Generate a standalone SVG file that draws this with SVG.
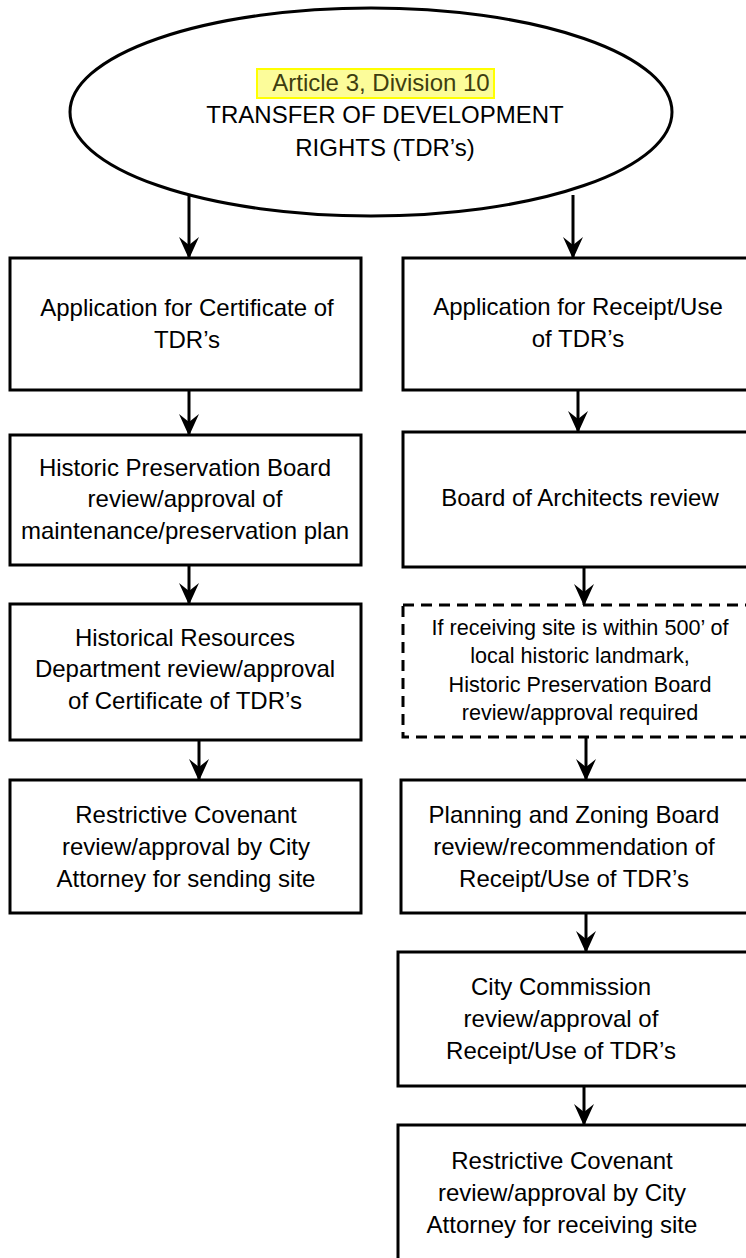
<svg xmlns="http://www.w3.org/2000/svg" width="746" height="1258" viewBox="0 0 746 1258">
<style>
.box{fill:#fff;stroke:#000;stroke-width:3}
.dash{fill:#fff;stroke:#000;stroke-width:3;stroke-dasharray:11 7}
.t{font-family:"Liberation Sans",Arial,sans-serif;font-size:24px;fill:#000;text-anchor:middle}
.s{font-size:21.6px}
.c{stroke:#000;stroke-width:3;fill:none;marker-end:url(#ah)}
</style>
<defs>
<marker id="ah" viewBox="0 0 22 22" refX="22" refY="11" markerWidth="22" markerHeight="22" markerUnits="userSpaceOnUse" orient="auto">
<path d="M0,1 L22,11 L0,21 L8,11 Z" fill="#000"/>
</marker>
</defs>
<rect width="746" height="1258" fill="#fff"/>
<g id="start">
<ellipse cx="371" cy="112" rx="301" ry="104" class="box"/>
<rect x="257" y="69" width="237" height="29" fill="#fcfc9a" stroke="#ffff00" stroke-width="2"/>
<text class="t" x="381" y="91" style="fill:#3e3e10">Article 3, Division 10</text>
<text class="t" x="385" y="123">TRANSFER OF DEVELOPMENT</text>
<text class="t" x="385" y="156">RIGHTS (TDR’s)</text>
</g>
<g id="connectors">
<line class="c" x1="189" y1="195" x2="189" y2="259"/>
<line class="c" x1="573" y1="195" x2="573" y2="259"/>
<line class="c" x1="189" y1="390" x2="189" y2="436"/>
<line class="c" x1="578" y1="390" x2="578" y2="433"/>
<line class="c" x1="189" y1="565" x2="189" y2="605"/>
<line class="c" x1="584" y1="567" x2="584" y2="606"/>
<line class="c" x1="199" y1="740" x2="199" y2="781"/>
<line class="c" x1="586" y1="737" x2="586" y2="781"/>
<line class="c" x1="586" y1="913" x2="586" y2="953"/>
<line class="c" x1="584" y1="1086" x2="584" y2="1126"/>
</g>
<g id="app-cert">
<rect class="box" x="10" y="258" width="351" height="132"/>
<text class="t" x="187" y="316">Application for Certificate of</text>
<text class="t" x="187" y="348">TDR’s</text>
</g>
<g id="hpb-plan">
<rect class="box" x="10" y="435" width="351" height="130"/>
<text class="t" x="185" y="476">Historic Preservation Board</text>
<text class="t" x="185" y="507">review/approval of</text>
<text class="t" x="185" y="539">maintenance/preservation plan</text>
</g>
<g id="hrd">
<rect class="box" x="10" y="604" width="351" height="136"/>
<text class="t" x="185" y="646">Historical Resources</text>
<text class="t" x="185" y="677">Department review/approval</text>
<text class="t" x="185" y="709">of Certificate of TDR’s</text>
</g>
<g id="rc-sending">
<rect class="box" x="10" y="780" width="351" height="133"/>
<text class="t" x="186" y="823">Restrictive Covenant</text>
<text class="t" x="186" y="855">review/approval by City</text>
<text class="t" x="186" y="887">Attorney for sending site</text>
</g>
<g id="app-receipt">
<rect class="box" x="403" y="258" width="360" height="132"/>
<text class="t" x="578" y="315">Application for Receipt/Use</text>
<text class="t" x="578" y="347">of TDR’s</text>
</g>
<g id="boa">
<rect class="box" x="403" y="432" width="360" height="135"/>
<text class="t" x="580" y="506">Board of Architects review</text>
</g>
<g id="hpb-500">
<rect class="dash" x="403" y="605" width="360" height="132"/>
<text class="t s" x="580" y="635">If receiving site is within 500’ of</text>
<text class="t s" x="580" y="663">local historic landmark,</text>
<text class="t s" x="580" y="692">Historic Preservation Board</text>
<text class="t s" x="580" y="720">review/approval required</text>
</g>
<g id="pzb">
<rect class="box" x="401" y="780" width="362" height="133"/>
<text class="t" x="574" y="823">Planning and Zoning Board</text>
<text class="t" x="574" y="855">review/recommendation of</text>
<text class="t" x="574" y="887">Receipt/Use of TDR’s</text>
</g>
<g id="cc">
<rect class="box" x="398" y="952" width="365" height="134"/>
<text class="t" x="561" y="995">City Commission</text>
<text class="t" x="561" y="1027">review/approval of</text>
<text class="t" x="561" y="1059">Receipt/Use of TDR’s</text>
</g>
<g id="rc-receiving">
<rect class="box" x="398" y="1125" width="365" height="150"/>
<text class="t" x="562" y="1169">Restrictive Covenant</text>
<text class="t" x="562" y="1201">review/approval by City</text>
<text class="t" x="562" y="1233">Attorney for receiving site</text>
</g>
</svg>
